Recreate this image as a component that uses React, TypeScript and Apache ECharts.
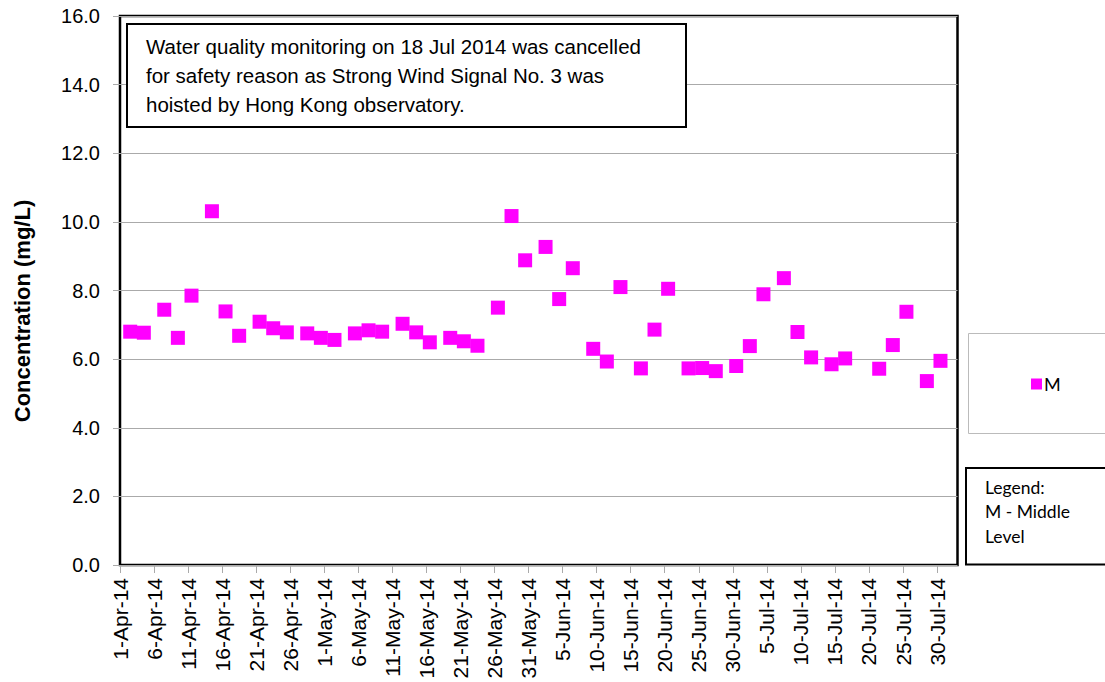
import React, { useEffect, useRef } from "react";
import * as echarts from "echarts";

const sampleDates: string[] = [
  "2-Apr-14", "4-Apr-14", "7-Apr-14", "9-Apr-14", "11-Apr-14", "14-Apr-14", "16-Apr-14", "18-Apr-14",
  "21-Apr-14", "23-Apr-14", "25-Apr-14", "28-Apr-14", "30-Apr-14",
  "2-May-14", "5-May-14", "7-May-14", "9-May-14", "12-May-14", "14-May-14", "16-May-14",
  "19-May-14", "21-May-14", "23-May-14", "26-May-14", "28-May-14", "30-May-14",
  "2-Jun-14", "4-Jun-14", "6-Jun-14", "9-Jun-14", "11-Jun-14", "13-Jun-14", "16-Jun-14",
  "18-Jun-14", "20-Jun-14", "23-Jun-14", "25-Jun-14", "27-Jun-14", "30-Jun-14",
  "2-Jul-14", "4-Jul-14", "7-Jul-14", "9-Jul-14", "11-Jul-14", "14-Jul-14", "16-Jul-14",
  "21-Jul-14", "23-Jul-14", "25-Jul-14", "28-Jul-14", "30-Jul-14",
];

const middleLevel: number[] = [
  6.80, 6.77, 7.44, 6.62, 7.85, 10.31, 7.39, 6.68,
  7.09, 6.90, 6.78, 6.75, 6.62,
  6.56, 6.75, 6.84, 6.80, 7.03, 6.78, 6.49,
  6.62, 6.52, 6.39, 7.50, 10.17, 8.88,
  9.27, 7.75, 8.65, 6.30, 5.93, 8.10, 5.73,
  6.86, 8.05, 5.73, 5.74, 5.65, 5.80,
  6.38, 7.89, 8.36, 6.79, 6.05, 5.85, 6.02,
  5.72, 6.41, 7.38, 5.36, 5.95,
];

const xTickLabels: string[] = [
  "1-Apr-14", "6-Apr-14", "11-Apr-14", "16-Apr-14", "21-Apr-14", "26-Apr-14",
  "1-May-14", "6-May-14", "11-May-14", "16-May-14", "21-May-14", "26-May-14", "31-May-14",
  "5-Jun-14", "10-Jun-14", "15-Jun-14", "20-Jun-14", "25-Jun-14", "30-Jun-14",
  "5-Jul-14", "10-Jul-14", "15-Jul-14", "20-Jul-14", "25-Jul-14", "30-Jul-14",
];

const annotationLines: string[] = [
  "Water quality monitoring on 18 Jul 2014 was cancelled",
  "for safety reason as Strong Wind Signal No. 3 was",
  "hoisted by Hong Kong observatory.",
];

const legendNoteLines: string[] = ["Legend:", "M - Middle", "Level"];

const monthStart: Record<string, number> = { Apr: 0, May: 30, Jun: 61, Jul: 91, Aug: 122 };

function dayIndex(s: string): number {
  const [d, m] = s.split("-");
  return monthStart[m] + parseInt(d, 10) - 1;
}

export default function App() {
  const ref = useRef<HTMLDivElement>(null);
  useEffect(() => {
    if (!ref.current) return;
    const chart = echarts.init(ref.current, undefined, { renderer: "svg" });
    const font = "'Liberation Sans', Arial, sans-serif";
    const legendFont = "Lato, 'Open Sans', sans-serif";
    const points = sampleDates.map((d, i) => [dayIndex(d) + 0.5, middleLevel[i]]);
    chart.setOption({
      animation: false,
      backgroundColor: "#fff",
      grid: {
        left: 120,
        top: 16,
        right: 147.5,
        bottom: 117,
        containLabel: false,
        outerBoundsMode: "none",
        show: true,
        borderColor: "#000",
        borderWidth: 2.5,
        backgroundColor: "transparent",
      },
      xAxis: {
        type: "value",
        min: 0,
        max: 123,
        interval: 5,
        axisLine: { show: false },
        axisTick: { show: true, length: 8, lineStyle: { color: "#aaa" } },
        splitLine: { show: false },
        axisLabel: {
          rotate: 90,
          margin: 13,
          fontSize: 21,
          fontFamily: font,
          color: "#000",
          showMaxLabel: false,
          formatter: (v: number) => xTickLabels[Math.round(v / 5)] ?? "",
        },
      },
      yAxis: {
        type: "value",
        min: 0,
        max: 16,
        interval: 2,
        axisLine: { show: false },
        axisTick: { show: true, inside: false, length: 7, lineStyle: { color: "#aaa" } },
        splitLine: { show: true, lineStyle: { color: "#aaa", width: 1 } },
        axisLabel: {
          margin: 20,
          fontSize: 20,
          fontFamily: font,
          color: "#000",
          formatter: (v: number) => v.toFixed(1),
        },
      },
      legend: {
        show: true,
        left: 1026,
        top: 370,
        icon: "rect",
        itemWidth: 11,
        itemHeight: 11,
        itemGap: 4,
        textStyle: { fontSize: 18, fontFamily: legendFont, color: "#000", padding: [0, 0, 0, -3] },
        data: ["M"],
      },
      series: [
        {
          name: "M",
          type: "scatter",
          symbol: "rect",
          symbolSize: 14,
          itemStyle: { color: "#ff00ff", opacity: 1 },
          data: points,
          z: 5,
        },
      ],
      graphic: [
        {
          type: "text",
          x: 22,
          y: 311,
          rotation: Math.PI / 2,
          style: {
            text: "Concentration (mg/L)",
            fontSize: 22,
            fontWeight: "bold",
            fontFamily: font,
            fill: "#000",
            textAlign: "center",
            textVerticalAlign: "middle",
          },
        },
        {
          type: "rect",
          shape: { x: 127, y: 24, width: 559, height: 103 },
          style: { fill: "#fff", stroke: "#000", lineWidth: 2 },
          z: 10,
        },
        ...annotationLines.map((t, i) => ({
          type: "text",
          x: 146,
          y: 57 + i * 29,
          z: 11,
          style: {
            text: t,
            fontSize: 20.5,
            fontFamily: font,
            fill: "#000",
            textVerticalAlign: "bottom",
          },
        })),
        {
          type: "rect",
          shape: { x: 968.5, y: 333.5, width: 150, height: 100 },
          style: { fill: "transparent", stroke: "#bbb", lineWidth: 1 },
          z: 1,
        },
        {
          type: "rect",
          shape: { x: 966, y: 468, width: 150, height: 96.5 },
          style: { fill: "#fff", stroke: "#000", lineWidth: 2 },
          z: 10,
        },
        ...legendNoteLines.map((t, i) => ({
          type: "text",
          x: 985,
          y: 496 + i * 24.5,
          z: 11,
          style: {
            text: t,
            fontSize: 17.5,
            fontFamily: legendFont,
            fill: "#000",
            textVerticalAlign: "bottom",
          },
        })),
      ],
    });
    return () => chart.dispose();
  }, []);
  return (
    <div
      ref={ref}
      style={{ position: "fixed", left: 0, top: 0, width: 1105, height: 682, background: "#fff" }}
    />
  );
}
